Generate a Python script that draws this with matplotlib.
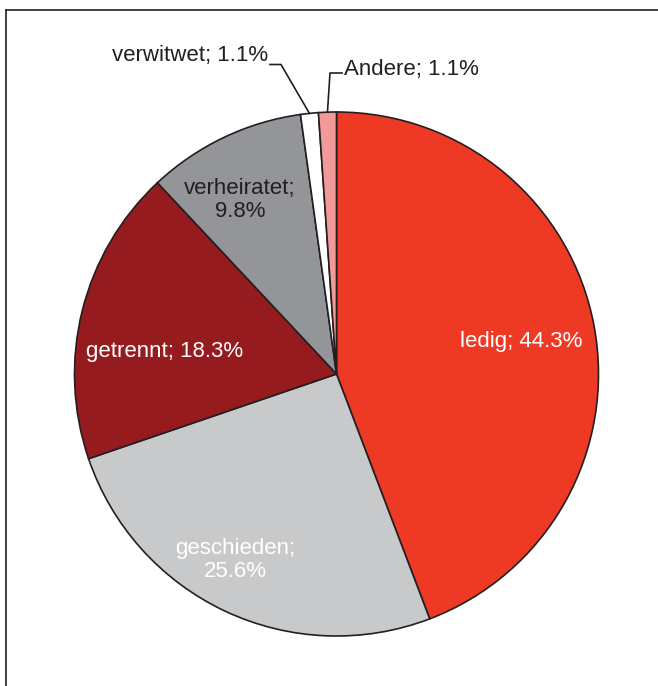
import numpy as np
import matplotlib
matplotlib.use('Agg')
import matplotlib.pyplot as plt
from matplotlib.lines import Line2D

plt.rcParams['font.family'] = ['Liberation Sans', 'DejaVu Sans']

# data
categories = ['ledig', 'geschieden', 'getrennt', 'verheiratet', 'verwitwet', 'Andere']
shares = [44.3, 25.6, 18.3, 9.8, 1.1, 1.1]
colors = ['#EE3A24', '#C8C9CB', '#961B1F', '#939598', '#FFFFFF', '#F4999A']
label_text = ['ledig; 44.3%', 'geschieden;\n25.6%', 'getrennt; 18.3%',
              'verheiratet;\n9.8%', 'verwitwet; 1.1%', 'Andere; 1.1%']

W, H = 658, 686
cx, cy, R = 336.5, 374.0, 262.0

fig = plt.figure(figsize=(W/100., H/100.), dpi=100)
ax = fig.add_axes([(cx-R)/W, (H-cy-R)/H, 2*R/W, 2*R/H])

wedges, _ = ax.pie(shares, colors=colors, startangle=90, counterclock=False, radius=1,
                   wedgeprops=dict(edgecolor='#231F20', linewidth=1.2))
ax.set_xlim(-1, 1)
ax.set_ylim(-1, 1)
ax.set_aspect('equal')
ax.axis('off')

def d(px, py):
    # pixel -> data
    return (px-cx)/R, (cy-py)/R

# labels inside slices
inside = {0: (521.5, 341, 'white'), 1: (235, 560, 'white'),
          2: (164.5, 352, 'white'), 3: (240, 200, '#231F20')}
for i, (px, py, c) in inside.items():
    x, y = d(px, py)
    ax.text(x, y, label_text[i], ha='center', va='center', color=c,
            fontsize=16, linespacing=1.1, clip_on=False)

# outside labels with leader lines
for i, elbow, end, txt_xy, ha in [(4, (281, 64.5), (270, 64.5), (268, 56), 'right'),
                                   (5, (330, 73), (342, 73), (344, 70), 'left')]:
    w = wedges[i]
    mid = np.deg2rad((w.theta1+w.theta2)/2.)
    ex, ey = d(*elbow)
    nx, ny = d(*end)
    ax.plot([np.cos(mid), ex, nx], [np.sin(mid), ey, ny], color='#231F20',
            lw=1.2, clip_on=False)
    tx, ty = d(*txt_xy)
    ax.text(tx, ty, label_text[i], ha=ha, va='center', color='#231F20', fontsize=16,
            clip_on=False)

# frame
fig.add_artist(Line2D([6/W, 6/W], [0, 1-10/H], color='#231F20', lw=1.2))
fig.add_artist(Line2D([6/W, 1], [1-10/H, 1-10/H], color='#231F20', lw=1.2))

fig.savefig('out.png', dpi=100)
